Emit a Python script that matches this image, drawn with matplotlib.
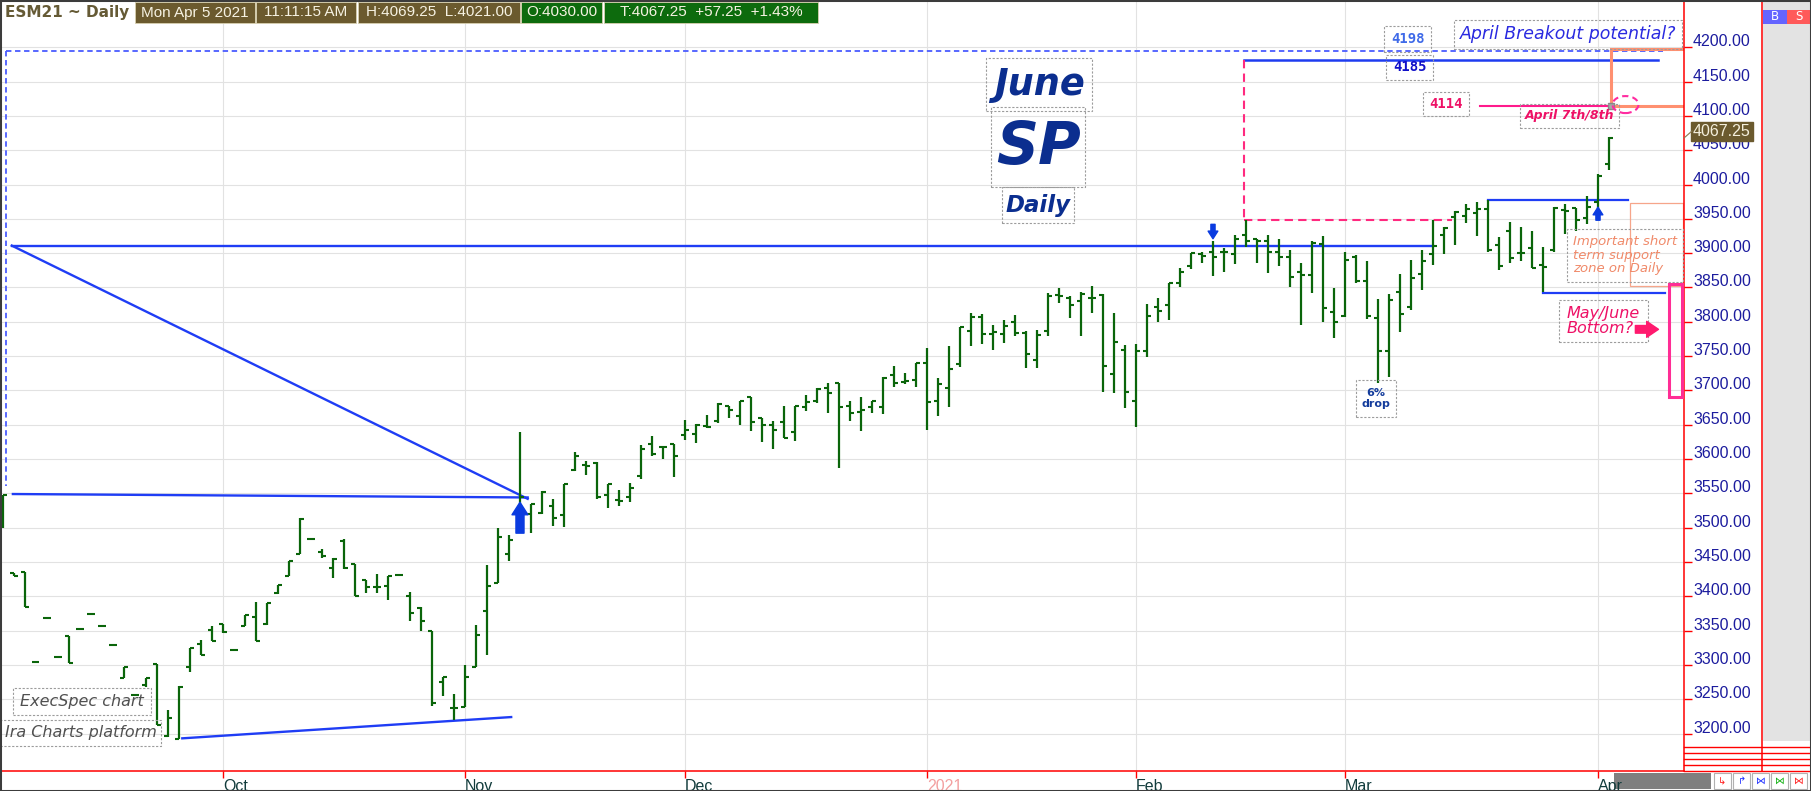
import matplotlib
matplotlib.use("Agg")
import matplotlib.pyplot as plt
import matplotlib.transforms as mtransforms
from matplotlib.patches import Rectangle, Ellipse
from matplotlib.lines import Line2D
import numpy as np

# ---------------- data (daily OHLC, ESM21, Sep 1 2020 .. Apr 5 2021) ----------------
opens = [3520, 3434, 3435, 3304, 3368, 3311, 3342, 3352, 3374, 3357, 3329, 3281, 3256, 3270, 3302, 3196, 3192, 3297, 3331, 3351, 3360,
         3321, 3356, 3370, 3359, 3405, 3430, 3461, 3484, 3465, 3441, 3481, 3447, 3424, 3414, 3415, 3431, 3400, 3383, 3350, 3275, 3237,
         3239, 3297, 3379, 3420, 3462, 3525, 3520, 3521, 3531, 3519, 3584, 3591, 3594, 3548, 3541, 3545, 3576, 3622, 3617, 3622,
         3635, 3637, 3648, 3655, 3677, 3663, 3691, 3660, 3650, 3654, 3639, 3676, 3685, 3704, 3711, 3677, 3668, 3676, 3676, 3722, 3712, 3715,
         3740, 3684, 3703, 3738, 3786, 3807, 3782, 3782, 3799, 3784, 3744, 3786, 3839, 3835, 3830, 3834, 3839, 3724, 3759,
         3684, 3758, 3822, 3825, 3856, 3881, 3899, 3902, 3901, 3899, 3927, 3921, 3918, 3902, 3895, 3872, 3868, 3913, 3814,
         3808, 3894, 3860, 3805, 3757, 3843, 3821, 3870, 3899, 3927, 3953, 3954, 3958, 3964, 3912, 3932, 3900, 3907, 3883, 3905, 3963, 3966, 3951, 3975, 4030]
highs = [3548, 3434, 3435, 3304, 3368, 3311, 3342, 3352, 3374, 3357, 3329, 3297, 3256, 3281, 3302, 3234, 3269, 3325, 3337, 3356, 3360,
         3321, 3373, 3391, 3390, 3416, 3452, 3514, 3484, 3469, 3456, 3483, 3447, 3424, 3432, 3429, 3431, 3406, 3384, 3350, 3283, 3257,
         3300, 3358, 3445, 3500, 3490, 3640, 3535, 3553, 3542, 3564, 3610, 3597, 3596, 3564, 3555, 3565, 3620, 3634, 3619, 3622,
         3657, 3651, 3664, 3681, 3678, 3684, 3691, 3660, 3655, 3678, 3677, 3693, 3704, 3711, 3711, 3684, 3690, 3684, 3719, 3736, 3726, 3740,
         3762, 3718, 3764, 3793, 3813, 3811, 3795, 3803, 3810, 3787, 3788, 3842, 3849, 3837, 3844, 3852, 3840, 3813, 3766,
         3768, 3826, 3834, 3857, 3878, 3900, 3902, 3917, 3908, 3927, 3948, 3921, 3927, 3920, 3905, 3886, 3918, 3925, 3849,
         3901, 3897, 3889, 3833, 3840, 3869, 3890, 3905, 3948, 3938, 3961, 3971, 3974, 3978, 3923, 3945, 3938, 3932, 3909, 3967, 3971, 3966, 3984, 4015, 4069.25]
lows = [3500, 3429, 3385, 3304, 3368, 3311, 3303, 3352, 3374, 3357, 3329, 3281, 3256, 3268, 3212, 3195, 3192, 3289, 3315, 3335, 3347,
        3321, 3356, 3335, 3358, 3404, 3430, 3461, 3484, 3456, 3427, 3440, 3401, 3405, 3405, 3395, 3431, 3364, 3350, 3240, 3255, 3219,
        3239, 3297, 3315, 3420, 3451, 3510, 3492, 3520, 3503, 3501, 3583, 3577, 3542, 3529, 3532, 3538, 3571, 3604, 3600, 3574,
        3628, 3623, 3645, 3652, 3660, 3650, 3641, 3625, 3615, 3630, 3626, 3670, 3682, 3667, 3587, 3655, 3641, 3667, 3666, 3705, 3709, 3705,
        3643, 3663, 3676, 3734, 3764, 3768, 3759, 3769, 3779, 3732, 3732, 3779, 3828, 3805, 3779, 3813, 3697, 3696, 3675,
        3647, 3749, 3800, 3802, 3850, 3877, 3885, 3867, 3873, 3884, 3909, 3886, 3871, 3881, 3851, 3795, 3842, 3800, 3776,
        3807, 3856, 3804, 3711, 3719, 3785, 3817, 3847, 3883, 3899, 3912, 3944, 3925, 3901, 3875, 3885, 3889, 3878, 3843, 3901, 3928, 3933, 3942, 3962, 4021]
closes = [3548, 3430, 3385, 3304, 3368, 3311, 3303, 3352, 3374, 3357, 3329, 3297, 3256, 3281, 3212, 3222, 3268, 3324, 3315, 3335, 3348,
          3321, 3372, 3335, 3390, 3416, 3452, 3513, 3484, 3458, 3455, 3441, 3401, 3414, 3414, 3429, 3431, 3375, 3364, 3244, 3283, 3237,
          3282, 3344, 3415, 3486, 3482, 3545, 3535, 3552, 3514, 3564, 3605, 3590, 3545, 3563, 3539, 3558, 3615, 3608, 3617, 3604,
          3643, 3650, 3646, 3680, 3672, 3684, 3654, 3650, 3643, 3630, 3677, 3683, 3702, 3696, 3676, 3667, 3671, 3684, 3718, 3711, 3714, 3740,
          3683, 3709, 3731, 3792, 3807, 3782, 3785, 3794, 3783, 3753, 3781, 3837, 3837, 3825, 3841, 3834, 3735, 3771, 3697,
          3757, 3809, 3815, 3856, 3872, 3900, 3896, 3894, 3902, 3921, 3918, 3918, 3901, 3894, 3865, 3868, 3915, 3820, 3800,
          3890, 3859, 3808, 3757, 3832, 3811, 3864, 3889, 3911, 3936, 3960, 3964, 3965, 3905, 3881, 3893, 3900, 3879, 3880, 3966, 3962, 3949, 3967, 4013, 4067.25]

month_labels = ['Oct', 'Nov', 'Dec', '2021', 'Feb', 'Mar', 'Apr']
month_start = [20, 42, 62, 84, 103, 122, 145]          # bar index of first session of month
price_ticks = list(range(3200, 4201, 50))

header_title = 'ESM21 ~ Daily'
header_fields = ['Mon Apr 5 2021', '11:11:15 AM', 'H:4069.25  L:4021.00', 'O:4030.00', 'T:4067.25  +57.25  +1.43%']
last_price = 4067.25

# drawn levels
level_4198 = 4194
level_4185 = 4181
level_4114 = 4114
resistance_level = 3911
breakout_box_level = 3948
march_high_level = 3978
march_low_level = 3842

# ---------------- layout ----------------
W, H = 1811, 791
X0, X1 = -0.18, 152.82
Y0, Y1 = 3145.4, 4268.9
AX_L, AX_R, AX_B = 1, 1684, 771
PXI = (AX_R - AX_L) / (X1 - X0)      # px per bar
PXP = AX_B / (Y1 - Y0)               # px per point

GREEN = '#0a650a'
BLUE = '#1f3df5'
PINK = '#ff2a7f'
SALMON = '#ff9070'
NAVY = '#0b2e8f'
RED = '#ff0000'
BROWN = '#6b5a2e'
HGREEN = '#0d6b0d'

def fx(x):
    return x / W

def fy(y):
    return 1 - y / H

fig = plt.figure(figsize=(W / 100, H / 100), dpi=100)
fig.patch.set_facecolor('white')
ax = fig.add_axes([fx(AX_L), fy(AX_B), (AX_R - AX_L) / W, AX_B / H])
ax.set_xlim(X0, X1)
ax.set_ylim(Y0, Y1)

# grid
ax.set_yticks(price_ticks)
ax.set_xticks(month_start)
ax.set_xticklabels(month_labels)
ax.grid(True, color='#e2e2e2', lw=0.8)
ax.set_axisbelow(True)
ax.tick_params(axis='y', left=False, right=True, length=6, width=1, color=RED,
               labelleft=False, labelright=False)
ax.tick_params(axis='x', length=5, width=1, color=RED, pad=0.5, labelsize=11.5,
               labelcolor='#123c3c')
for lbl in ax.get_xticklabels():
    lbl.set_ha('left')
    lbl.set_family('Liberation Sans')
    if lbl.get_text() == '2021':
        lbl.set_color('#f3a0a0')
for s in ['left', 'top']:
    ax.spines[s].set_visible(False)
for s in ['right', 'bottom']:
    ax.spines[s].set_color(RED)
    ax.spines[s].set_linewidth(1.1)

# right price labels
ytr = mtransforms.blended_transform_factory(ax.transAxes, ax.transData)
ytr = mtransforms.offset_copy(ytr, fig=fig, x=9, y=1, units='dots')
for p in price_ticks:
    ax.text(1.0, p, f'{p:.2f}', transform=ytr, ha='left', va='baseline', fontsize=11.5,
            family='Liberation Sans', color='#1c1c9e', clip_on=False)

# ---------------- OHLC bars ----------------
idx = np.arange(len(closes))
ax.vlines(idx, lows, highs, colors=GREEN, linewidth=1.6, zorder=3)
ax.hlines(opens, idx - 0.32, idx, colors=GREEN, linewidth=1.5, zorder=3)
ax.hlines(closes, idx, idx + 0.32, colors=GREEN, linewidth=1.5, zorder=3)

# ---------------- trend lines ----------------
ax.plot([0.8, 130.0], [resistance_level, resistance_level], color=BLUE, lw=1.7, zorder=2)
ax.plot([0.8, 47.7], [resistance_level, 3542], color=BLUE, lw=1.7, zorder=2)
ax.plot([0.9, 47.7], [3549, 3544], color=BLUE, lw=1.7, zorder=2)
ax.plot([16.3, 46.2], [3193, 3224], color=BLUE, lw=1.7, zorder=2)
ax.plot([0.27, 150.9], [level_4198, level_4198], color='#4a5cff', lw=1.3, ls=(0, (3, 2)), zorder=2)
ax.plot([0.27, 0.27], [level_4198, 3561], color='#4a5cff', lw=1.3, ls=(0, (3, 2)), zorder=2)
ax.plot([112.8, 150.5], [level_4185, level_4185], color='#1e3cf0', lw=1.8, zorder=2)
ax.plot([135, 147.7], [march_high_level, march_high_level], color=BLUE, lw=1.6, zorder=2)
ax.plot([140, 151.1], [march_low_level, march_low_level], color=BLUE, lw=1.6, zorder=2)

# pink dashed breakout box
ax.plot([112.8, 112.8], [level_4185, breakout_box_level], color=PINK, lw=1.5, ls=(0, (4, 2.5)), zorder=2)
ax.plot([112.8, 131.7], [breakout_box_level, breakout_box_level], color=PINK, lw=1.5, ls=(0, (4, 2.5)), zorder=2)
# 4114 target line
ax.plot([134.3, 146.4], [level_4114, level_4114], color='#ff1a8c', lw=1.5, zorder=2)
# salmon bracket
ax.plot([152.7, 146.2, 146.2, 152.7], [4197, 4197, level_4114, level_4114], color=SALMON, lw=2.2,
        zorder=2, solid_joinstyle='miter')
ax.plot([146.2], [level_4114], marker='s', ms=4, color='#a8a8a8', mec='#888888', zorder=4)
ax.add_patch(Ellipse((147.5, 4116.5), 26 / PXI, 17 / PXP, fill=False, ec='#ff2ba0', lw=1.5,
                     ls=(0, (3, 2)), zorder=4))
# support zone rectangle
ax.add_patch(Rectangle((147.9, 3852), 4.8, 121, fill=False, ec='#f6a58a', lw=0.9, zorder=2))
# May/June bottom rectangle
ax.add_patch(Rectangle((151.5, 3690), 1.1, 165, fill=False, ec='#ff2d95', lw=2.2, zorder=4))

# arrows
def arrow(x0, y0, x1, y1, color, hw, hl, tw, ms):
    ax.annotate('', xy=(x1, y1), xytext=(x0, y0),
                arrowprops=dict(arrowstyle=f'simple,head_width={hw},head_length={hl},tail_width={tw}',
                                color=color, shrinkA=0, shrinkB=0, mutation_scale=ms), zorder=6)

arrow(47, 3492, 47, 3537, '#0a3be0', 1.15, 0.9, 0.58, 10)
arrow(110, 3942, 110, 3921, '#0a3be0', 0.7, 0.55, 0.3, 10)
arrow(145, 3948, 145, 3967, '#0a3be0', 0.7, 0.55, 0.3, 10)
arrow(148.4, 3789, 150.5, 3789, '#ff1a6e', 1.15, 0.85, 0.55, 10)

# ---------------- text boxes (transparent, dashed grey frame) ----------------
def tbox(i, p, w, h, text, **kw):
    dx, dp = w / 2 / PXI, h / 2 / PXP
    ax.add_patch(Rectangle((i - dx, p - dp), 2 * dx, 2 * dp, fill=False, ec='#9c9c9c', lw=0.8,
                           ls=(0, (2, 1.5)), zorder=5))
    ax.text(i, p, text, ha='center', va='center', zorder=6, **kw)

tbox(94.2, 4146, 106, 53, 'June', fontsize=26.5, fontweight='bold', style='italic', color=NAVY)
tbox(94.1, 4054, 94, 80, 'SP', fontsize=42, fontweight='bold', style='italic', color=NAVY)
tbox(94.1, 3970, 72, 36, 'Daily', fontsize=16.5, fontweight='bold', style='italic', color=NAVY)
tbox(7.2, 3247, 138, 27, 'ExecSpec chart', fontsize=11.5, style='italic', color='#505050')
tbox(7.05, 3201.5, 161, 26, 'Ira Charts platform', fontsize=11.5, style='italic', color='#505050')
tbox(124.8, 3688.5, 40, 37, '6%\ndrop', fontsize=8, fontweight='bold', color='#143c9c', linespacing=1.1)
tbox(127.7, 4212, 47, 26, '4198', fontsize=10, fontweight='bold', family='DejaVu Sans Mono', color='#3f6ae8')
tbox(127.9, 4170.6, 47, 25, '4185', fontsize=10, fontweight='bold', family='DejaVu Sans Mono', color='#1010c8')
tbox(131.2, 4117.4, 46, 24, '4114', fontsize=10, fontweight='bold', family='DejaVu Sans Mono', color='#ee1166')
tbox(142.4, 4099.9, 99, 24, 'April 7th/8th', fontsize=9, fontweight='bold', style='italic', color='#ee1166')
tbox(142.3, 4218.7, 228, 29, 'April Breakout potential?', fontsize=12.5, style='italic', color='#2a2ae0')
tbox(147.5, 3896.6, 116, 53, 'Important short\nterm support\nzone on Daily', fontsize=9.5, style='italic',
     color='#f08a6a', linespacing=1.05, multialignment='left')
tbox(145.5, 3801, 89, 42, 'May/June\nBottom?', fontsize=11.5, style='italic', color='#ee1166',
     linespacing=1.0, multialignment='left')

# last price label
ptr = mtransforms.offset_copy(mtransforms.blended_transform_factory(ax.transAxes, ax.transData),
                              fig=fig, x=9, y=7, units='dots')
ax.text(1.0, last_price, f'{last_price:.2f}', transform=ptr, ha='left', va='center', fontsize=11.5,
        family='Liberation Sans', color='#f4efdc', clip_on=False, zorder=10,
        bbox=dict(boxstyle='square,pad=0.12', fc=BROWN, ec=BROWN))
fig.add_artist(Line2D([fx(1684), fx(1692)], [fy(138), fy(131)], color='#8a7a50', lw=0.8,
                      transform=fig.transFigure))

# ---------------- header ----------------
fig.text(fx(5), fy(12), header_title, fontsize=11, fontweight='bold', color='#655a35',
         ha='left', va='center')
hdr_x = [(135, 255), (256, 356), (358, 520), (521, 602), (604, 818)]
hdr_c = [BROWN, BROWN, BROWN, HGREEN, HGREEN]
for (x0, x1), t, c in zip(hdr_x, header_fields, hdr_c):
    fig.add_artist(Rectangle((fx(x0), fy(23)), (x1 - x0) / W, 21 / H, transform=fig.transFigure,
                             fc=c, ec='#d8d0b0', lw=0.6, zorder=3))
    fig.text(fx((x0 + x1) / 2), fy(12.5), t, fontsize=11, family='Liberation Sans', color='#f6f2e2',
             ha='center', va='center', zorder=4)

# ---------------- right-hand panel / chrome ----------------
fig.add_artist(Rectangle((fx(1763), fy(741)), (1811 - 1763) / W, 741 / H, transform=fig.transFigure,
                         fc='#e3e3e3', ec='none', zorder=1))
fig.add_artist(Line2D([fx(1762), fx(1762)], [fy(0), fy(771)], color=RED, lw=1.1, transform=fig.transFigure, zorder=2))
for yy in [747, 753, 758.5, 764.5, 771]:
    fig.add_artist(Line2D([fx(1684), fx(1811)], [fy(yy), fy(yy)], color=RED, lw=1.0,
                          transform=fig.transFigure, zorder=2))
fig.add_artist(Rectangle((fx(1763), fy(24)), 24 / W, 14 / H, transform=fig.transFigure, fc='#6464ff', ec='none', zorder=3))
fig.add_artist(Rectangle((fx(1787), fy(24)), 23 / W, 14 / H, transform=fig.transFigure, fc='#ff5a5a', ec='none', zorder=3))
fig.text(fx(1775), fy(17), 'B', fontsize=8.5, color='white', ha='center', va='center', zorder=4)
fig.text(fx(1798.5), fy(17), 'S', fontsize=8.5, color='white', ha='center', va='center', zorder=4)

fig.add_artist(Rectangle((fx(1614), fy(789)), 97 / W, 16 / H, transform=fig.transFigure, fc='#7f7f7f',
                         ec='none', zorder=-1))
btn_cols = ['#ff2020', '#2030ff', '#2030ff', '#10b010', '#ff2020']
btn_txt = ['↳', '↱', '⋈', '⋈', '⋈']
for k, (c, t) in enumerate(zip(btn_cols, btn_txt)):
    x0 = 1714 + k * 19
    fig.add_artist(Rectangle((fx(x0), fy(789)), 17 / W, 16 / H, transform=fig.transFigure, fc='white',
                             ec='#b0b0b0', lw=0.8, zorder=3))
    fig.text(fx(x0 + 8.5), fy(781), t, fontsize=7, color=c, ha='center', va='center', zorder=4)

fig.add_artist(Rectangle((0, 0), 1, 1, transform=fig.transFigure, fill=False, ec='#3c3c3c', lw=2.2, zorder=20))

fig.savefig('out.png', dpi=100)
